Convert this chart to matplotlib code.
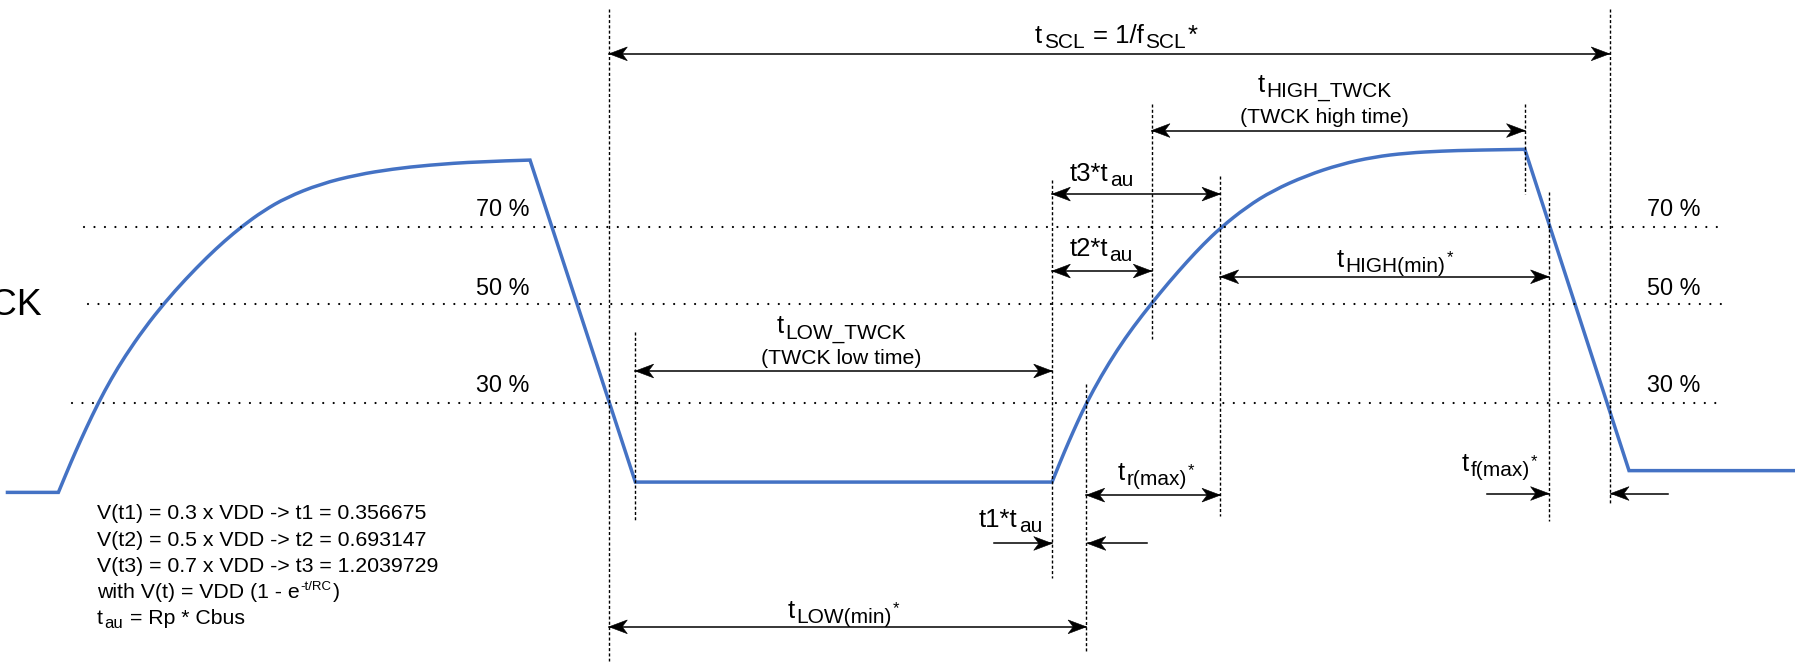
import matplotlib
matplotlib.use("Agg")
import matplotlib.pyplot as plt
from matplotlib.patches import Polygon, PathPatch
from matplotlib.path import Path

plt.rcParams['font.family'] = ['Liberation Sans', 'DejaVu Sans']

W, H = 1568, 579            # drawing units, y grows downward
K = W / 1795                # drawing units per output pixel
BLUE = '#4472C4'

# TWCK waveform (drawing units): two RC rises joined by straight falls / lows
start_pt = (5, 430)
rise1_x = [51, 58, 66, 75, 86, 97, 109, 126, 144, 162, 181, 196, 212, 230, 250, 280, 312, 343, 374, 418, 463]
rise1_y = [430, 413.1, 394.4, 374.5, 351.6, 331.2, 311.4, 286.8, 264.1, 243.9, 224.5, 210.6, 197.2, 184.2,
           172.6, 160.6, 152.6, 147.6, 144.2, 141.1, 139.8]
low_mid = (555, 421)
rise2_x = [919, 926, 934, 941, 949, 962, 976, 990, 1006, 1021, 1037, 1051, 1066, 1089, 1112, 1141, 1171, 1200,
           1229, 1260, 1287, 1332]
rise2_y = [421, 403.6, 384.8, 369.1, 352.1, 328.2, 305.5, 285.4, 264.9, 246.6, 228.4, 213.5, 199.1, 180.7,
           166.4, 153.4, 143.5, 137.1, 133.6, 131.9, 131.1, 130.4]
low_right = (1423, 411)
end_pt = (1568, 411)

# threshold levels
level_lbl = ['70 %', '50 %', '30 %']
level_y = [198.3, 265.8, 352.3]
level_x0 = [73, 77, 63]
level_x1 = [1502, 1506, 1501]
level_base = [188.5, 257.5, 342]
level_lx = [439.5, 1462]

# vertical dotted markers
vx = [532, 555, 919, 949, 1006, 1066, 1332, 1353, 1406]
vtop = [8, 290, 157, 335, 91, 154, 91, 168, 8]
vbot = [577, 455, 505, 569, 296, 451, 169, 455, 440]

# double arrows
span_x0 = [532, 1006, 919, 919, 1066, 555, 949, 532]
span_x1 = [1406, 1332, 1066, 1006, 1353, 919, 1066, 949]
span_y = [47, 114, 169.5, 236.7, 241.7, 324, 432.4, 547.4]

# single inward arrows: tail, tip, y
one_tail = [868, 1002, 1299, 1457]
one_tip = [919, 950, 1353, 1407]
one_y = [474.6, 474.6, 431, 431]

# labels: centre x, baseline, pieces
labels = [
    (975, 37.5, [('t', 'n'), ('SCL', 'b'), (' = 1/f', 'n'), ('SCL', 'b'), ('*', 'n')]),
    (1157, 80, [('t', 'n'), ('HIGH_TWCK', 'b')]),
    (962, 157.8, [('t3*t', 'n'), ('au', 'b')]),
    (962, 223.3, [('t2*t', 'n'), ('au', 'b')]),
    (1218.5, 233, [('t', 'n'), ('HIGH(min)', 'b'), ('*', 'p')]),
    (735, 291, [('t', 'n'), ('LOW_TWCK', 'b')]),
    (1010, 419.3, [('t', 'n'), ('r(max)', 'b'), ('*', 'p')]),
    (1310, 411, [('t', 'n'), ('f(max)', 'b'), ('*', 'p')]),
    (883, 460, [('t1*t', 'n'), ('au', 'b')]),
    (737, 540, [('t', 'n'), ('LOW(min)', 'b'), ('*', 'p')]),
]
notes = [(1157, 107, '(TWCK high time)'), (735, 318, '(TWCK low time)')]

formula = ['V(t1) = 0.3 x VDD -> t1 = 0.356675',
           'V(t2) = 0.5 x VDD -> t2 = 0.693147',
           'V(t3) = 0.7 x VDD -> t3 = 1.2039729']
formula_base = [453.5, 476.5, 499.5, 522.5, 545]
formula_x = 84.4

fig = plt.figure(figsize=(17.95, 6.63), dpi=100)
ax = fig.add_axes([0, 0, 1, 1])
ax.set_xlim(0, W); ax.set_ylim(H, 0); ax.axis('off')
R = fig.canvas.get_renderer()


def head(x, y, d):
    L, hw, n = 16, 6, 4.5
    ax.add_patch(Polygon([(x, y), (x - d*L, y - hw), (x - d*(L - n), y), (x - d*L, y + hw)],
                         closed=True, fc='k', ec='k', lw=0.4, zorder=5))


def rich(x, yb, parts, sizes=(18.5, 15, 12), shift=(4.4, 4.2), ha='center'):
    items, total, gap = [], 0, 1.3
    for s, k in parts:
        fs = sizes['nbp'.index(k)]
        dy = {'n': 0, 'b': shift[0], 'p': -shift[1]}[k]
        lead = len(s) - len(s.lstrip(' '))
        t = ax.text(0, yb + dy, s.strip(' '), fontsize=fs, va='baseline', ha='left', zorder=6)
        w = t.get_window_extent(renderer=R).width * K
        pre = lead * 0.278 * fs / 72 * 100 * K
        items.append((t, pre, w))
        total += pre + w + gap
    total -= gap
    x0 = x - total / 2 if ha == 'center' else x
    for t, pre, w in items:
        x0 += pre
        t.set_x(x0)
        x0 += w + gap


def smooth(verts, codes, xs, ys):
    # quadratic bezier through the read points (points act as control points)
    pts = list(zip(xs, ys))
    verts.append(pts[0]); codes.append(Path.LINETO)
    for i in range(1, len(pts) - 1):
        nxt = pts[i + 1] if i == len(pts) - 2 else ((pts[i][0] + pts[i + 1][0]) / 2, (pts[i][1] + pts[i + 1][1]) / 2)
        verts += [pts[i], nxt]; codes += [Path.CURVE3, Path.CURVE3]


verts, codes = [start_pt], [Path.MOVETO]
smooth(verts, codes, rise1_x, rise1_y)
verts.append(low_mid); codes.append(Path.LINETO)
smooth(verts, codes, rise2_x, rise2_y)
verts += [low_right, end_pt]; codes += [Path.LINETO, Path.LINETO]
ax.add_patch(PathPatch(Path(verts, codes), fill=False, ec=BLUE, lw=2.5, zorder=2))

for y, a, b in zip(level_y, level_x0, level_x1):
    ax.plot([a, b], [y, y], color='k', lw=1.6, ls=(0, (0.01, 4.7)), dash_capstyle='round', zorder=3)
for lbl, yb in zip(level_lbl, level_base):
    for lx in level_lx:
        ax.text(lx, yb, lbl, fontsize=16.8, ha='center', va='baseline')

for x, a, b in zip(vx, vtop, vbot):
    ax.plot([x, x], [a, b], color='k', lw=1.0, ls=(0, (2.2, 1.6)), zorder=3)

for a, b, y in zip(span_x0, span_x1, span_y):
    ax.plot([a, b], [y, y], color='k', lw=1.1, zorder=4)
    head(a, y, -1); head(b, y, 1)

for a, b, y in zip(one_tail, one_tip, one_y):
    d = 1 if b > a else -1
    ax.plot([a, b], [y, y], color='k', lw=1.1, zorder=4)
    head(b, y, d)

for x, yb, parts in labels:
    rich(x, yb, parts)
for x, yb, s in notes:
    ax.text(x, yb, s, fontsize=15.3, ha='center', va='baseline')

# signal name, cut by the left edge as in the source drawing
ax.text(36.5, 275, 'TWCK', fontsize=26.8, ha='right', va='baseline')

for s, yb in zip(formula, formula_base):
    ax.text(formula_x, yb, s, fontsize=15.3, ha='left', va='baseline')
rich(formula_x, formula_base[3], [('with V(t) = VDD (1 - e', 'n'), ('-t/RC', 'p'), (')', 'n')],
     sizes=(15.3, 12, 9.5), shift=(3, 7.3), ha='left')
rich(formula_x, formula_base[4], [('t', 'n'), ('au', 'b'), (' = Rp * Cbus', 'n')],
     sizes=(15.3, 12, 9.5), shift=(3, 7.3), ha='left')

fig.savefig('out.png', dpi=100, facecolor='white')
